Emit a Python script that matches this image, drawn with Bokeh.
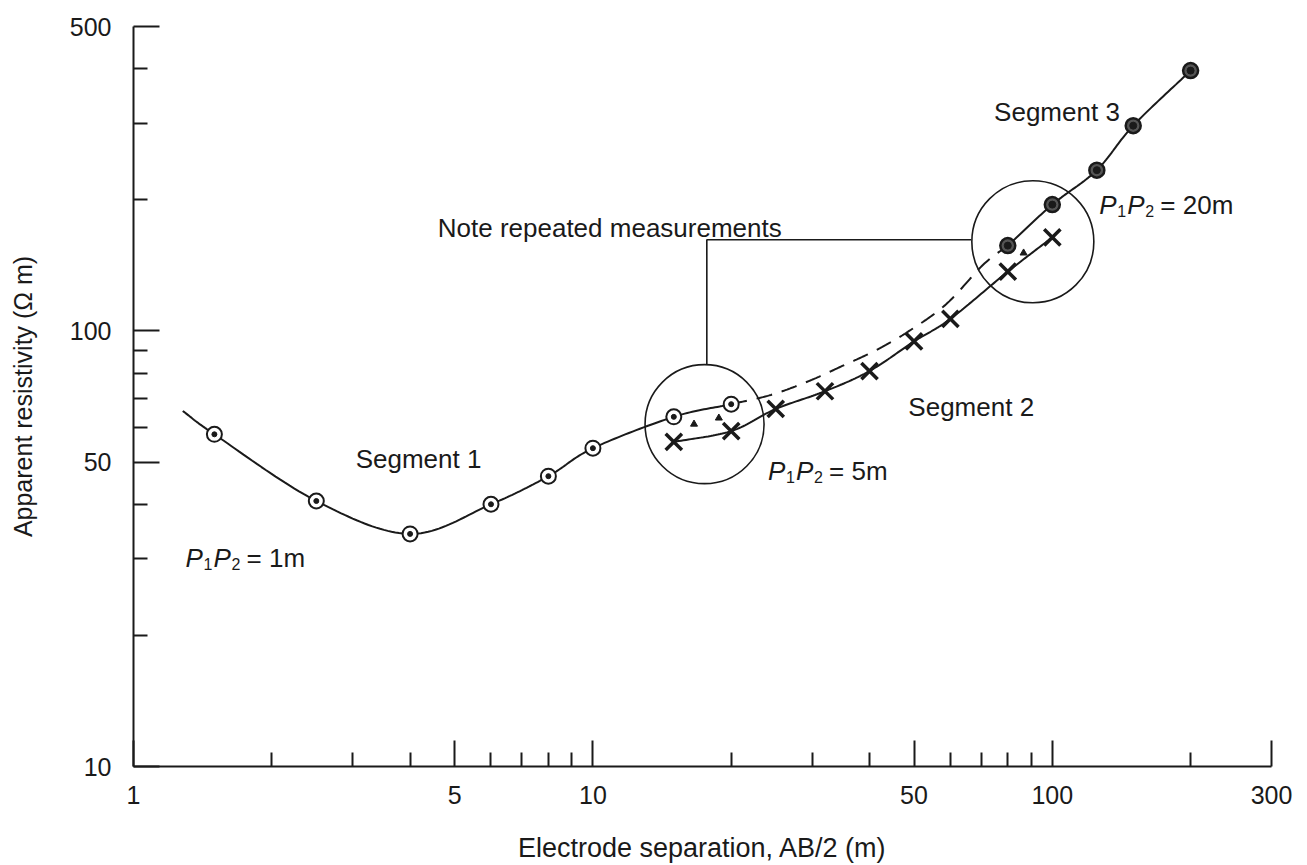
import numpy as np
from bokeh.plotting import figure
from bokeh.models import FixedTicker, PrintfTickFormatter, Label, Range1d
from bokeh.embed import file_html
from bokeh.resources import INLINE

# ---------------- data ----------------
# Segment 1: P1P2 = 1 m (circles)
seg1_x = [1.5, 2.5, 4, 6, 8, 10, 15, 20]
seg1_y = [57.9, 40.7, 34.2, 40.0, 46.4, 53.8, 63.5, 67.9]
seg1_start_x = [1.28]          # the drawn curve begins a little before the first reading
seg1_start_y = [65.5]

# Segment 2: P1P2 = 5 m (crosses)
seg2_x = [15, 20, 25, 32, 40, 50, 60, 80, 100]
seg2_y = [55.6, 58.9, 66.2, 72.7, 80.9, 94.6, 106.6, 136.8, 164.0]

# Segment 3: P1P2 = 20 m (circles)
seg3_x = [80, 100, 125, 150, 200]
seg3_y = [157, 195, 234, 296, 396]

# dashed line linking the end of segment 1 to the start of segment 3
link_x = [20, 24.4, 29.5, 34.9, 41.4, 48.8, 58.8, 70.7, 80]
link_y = [67.9, 71.3, 76.7, 83.1, 90.4, 100, 115.3, 141.9, 157]

# small arrow marks showing the shift of repeated measurements
drop_x = [16.6, 18.8, 86.6]
drop_y = [61.1, 63.1, 151.0]

# rings around the repeated measurements and the note leader
ring_x = [17.5, 90.7]
ring_y = [61.1, 160.2]
lead_x = [66.6, 17.7, 17.7]
lead_y = [161.9, 161.9, 83.5]

# axis ticks
x_major = [1, 5, 10, 50, 100, 300]
x_minor = [2, 3, 4, 6, 7, 8, 9, 20, 30, 40, 60, 70, 80, 90, 200]
y_major = [10, 50, 100, 500]
y_minor = [20, 30, 40, 60, 70, 80, 90, 200, 300, 400]

INK = "#1a1a1a"
FONT = "Liberation Sans"


def smooth(xs, ys, n=24):
    """Catmull-Rom curve through the points, in log-log space."""
    P = np.column_stack([np.log10(xs), np.log10(ys)])
    P = np.vstack([2 * P[0] - P[1], P, 2 * P[-1] - P[-2]])
    out = []
    t = np.linspace(0, 1, n, endpoint=False)[:, None]
    for i in range(1, len(P) - 2):
        p0, p1, p2, p3 = P[i - 1], P[i], P[i + 1], P[i + 2]
        seg = 0.5 * ((2 * p1) + (-p0 + p2) * t + (2 * p0 - 5 * p1 + 4 * p2 - p3) * t ** 2
                     + (-p0 + 3 * p1 - 3 * p2 + p3) * t ** 3)
        out.append(seg)
    out.append(P[-2][None, :])
    out = np.vstack(out)
    return 10 ** out[:, 0], 10 ** out[:, 1]


p = figure(width=1307, height=865, x_axis_type="log", y_axis_type="log",
           x_range=Range1d(1, 300), y_range=Range1d(10, 500),
           output_backend="svg", toolbar_location=None,
           min_border_left=133, min_border_right=36, min_border_top=26, min_border_bottom=98)
p.outline_line_color = None
p.grid.visible = False
p.background_fill_color = "white"
p.border_fill_color = "white"

for ax in (p.xaxis[0], p.yaxis[0]):
    ax.axis_line_width = 2
    ax.axis_line_color = INK
    ax.major_tick_in = 26
    ax.major_tick_out = 0
    ax.minor_tick_in = 14
    ax.minor_tick_out = 0
    ax.major_tick_line_width = 2
    ax.minor_tick_line_width = 2
    ax.major_tick_line_color = INK
    ax.minor_tick_line_color = INK
    ax.major_label_text_font = FONT
    ax.major_label_text_font_size = "25px"
    ax.major_label_text_color = INK
    ax.formatter = PrintfTickFormatter(format="%d")
    ax.axis_label_text_font = FONT
    ax.axis_label_text_font_style = "normal"
    ax.axis_label_text_color = INK

p.xaxis.ticker = FixedTicker(ticks=x_major, minor_ticks=x_minor)
p.yaxis.ticker = FixedTicker(ticks=y_major, minor_ticks=y_minor)
p.xaxis.major_label_standoff = 19
p.yaxis.major_label_standoff = 22
p.yaxis.axis_label = "Apparent resistivity (Ω m)"
p.yaxis.axis_label_text_font_size = "25px"
p.yaxis.axis_label_standoff = 30
p.xaxis.axis_label = "Electrode separation, AB/2 (m)"
p.xaxis.axis_label_text_font_size = "27px"
p.xaxis.axis_label_standoff = 26

# curves
cx, cy = smooth(seg1_start_x + seg1_x, seg1_start_y + seg1_y)
p.line(cx, cy, line_color=INK, line_width=2)
cx, cy = smooth(seg2_x, seg2_y)
p.line(cx, cy, line_color=INK, line_width=2)
cx, cy = smooth(seg3_x, seg3_y)
p.line(cx, cy, line_color=INK, line_width=2)
cx, cy = smooth(link_x, link_y)
p.line(cx, cy, line_color=INK, line_width=2, line_dash="16 10")

# leader and rings
p.line(lead_x, lead_y, line_color=INK, line_width=1.6)
p.scatter(ring_x, ring_y, marker="circle", size=[119, 122], fill_color=None,
          line_color=INK, line_width=1.6)

# markers
p.scatter(seg1_x, seg1_y, marker="circle", size=15, fill_color="white", line_color=INK, line_width=2)
p.scatter(seg1_x, seg1_y, marker="circle", size=5, fill_color=INK, line_color=INK)
p.scatter(seg3_x, seg3_y, marker="circle", size=15, fill_color="#555555", line_color=INK, line_width=2.5)
p.scatter(seg3_x, seg3_y, marker="circle", size=7, fill_color=INK, line_color=INK)
p.scatter(seg2_x, seg2_y, marker="x", size=23, line_color=INK, line_width=3.5)
p.scatter(drop_x, drop_y, marker="triangle", size=7, fill_color=INK, line_color=INK)


def label(x, y, text, size="26px", style="normal", dx=0, dy=0):
    p.add_layout(Label(x=x, y=y, text=text, x_offset=dx, y_offset=dy,
                       text_font=FONT, text_font_size=size, text_font_style=style,
                       text_color=INK, text_align="left", text_baseline="alphabetic"))


def pp_label(x, y, tail):
    label(x, y, "P", style="italic")
    label(x, y, "1", size="16px", dx=18, dy=-6)
    label(x, y, "P", style="italic", dx=28)
    label(x, y, "2", size="16px", dx=46, dy=-6)
    label(x, y, tail, dx=61)


label(4.595, 172.5, "Note repeated measurements")
label(3.045, 50.8, "Segment 1")
label(48.6, 66.9, "Segment 2")
label(74.7, 318.9, "Segment 3")
pp_label(1.298, 30.07, "= 1m")
pp_label(24.06, 47.7, "= 5m")
pp_label(126.6, 194.9, "= 20m")

open("out.html", "w").write(file_html(p, INLINE))
